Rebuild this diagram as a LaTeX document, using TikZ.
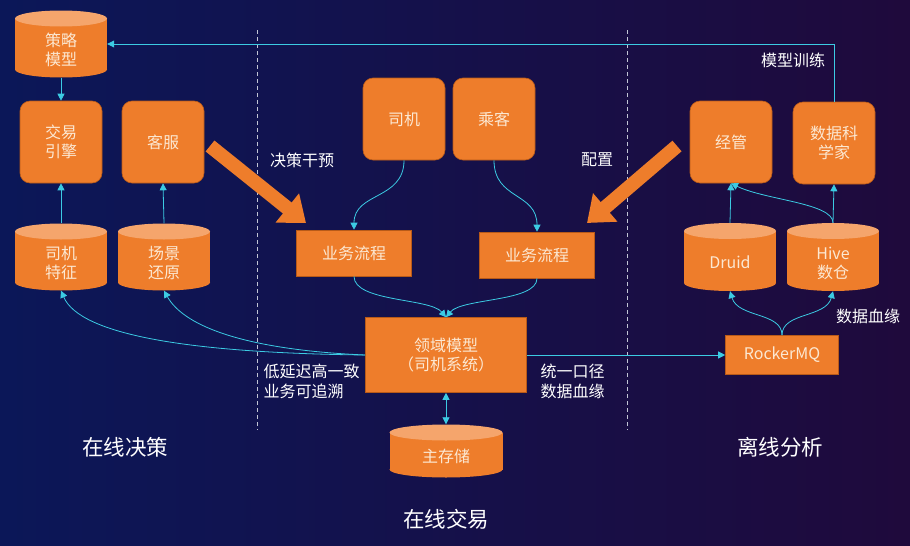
\documentclass[tikz,border=0pt]{standalone}
\usepackage{fontspec}
\setmainfont{Noto Sans CJK SC}
\usetikzlibrary{arrows.meta,calc}
\definecolor{bgl}{HTML}{0B1758}
\definecolor{bgr}{HTML}{1F0A3C}
\definecolor{org}{HTML}{EE7D2B}
\definecolor{orgtop}{HTML}{F5A56C}
\definecolor{orgdk}{HTML}{B85A18}
\definecolor{cy}{HTML}{3CCBE3}
\definecolor{txt}{HTML}{FCE8D2}
\newcommand\tl[1]{\raisebox{-8pt}[\height][\depth]{\begin{tabular}{@{}c@{}}#1\end{tabular}}}
\newcommand\mycyl[6]{%
  \fill[org] (#2-#4/2,#3-#5/2+8) rectangle (#2+#4/2,#3+#5/2-8);
  \fill[org] (#2,#3+#5/2-8) ellipse[x radius=#4/2,y radius=8];
  \fill[orgtop] (#2,#3-#5/2+8) ellipse[x radius=#4/2,y radius=8];
  \node[cyl,minimum width=#4,minimum height=#5] (#1) at (#2,#3) {\tl{#6}};}
\begin{document}
\begin{tikzpicture}[x=1pt,y=-1pt,
  boxtext/.style={text=txt,font=\fontsize{16}{19}\selectfont,align=center},
  box/.style={boxtext,fill=org,draw=orgdk,line width=0.6pt,rounded corners=10pt,minimum width=82pt,minimum height=82pt},
  rbox/.style={boxtext,fill=org,draw=orgdk,line width=0.6pt},
  cyl/.style={boxtext,inner sep=0pt},
  lbl/.style={text=white,font=\fontsize{16}{20}\selectfont,align=left},
  big/.style={text=white,font=\fontsize{21.5}{26}\selectfont},
  conn/.style={cy,line width=0.8pt,-{Triangle[length=7pt,width=7pt]}},
  conn2/.style={cy,line width=0.8pt,{Triangle[length=7pt,width=7pt]}-{Triangle[length=7pt,width=7pt]}},
  dashline/.style={white!75!bgl,line width=0.6pt,dash pattern=on 4pt off 3pt},
  bigarrow/.style={org,line width=14pt,-{Triangle[length=24pt,width=36pt]}}]
\useasboundingbox (0,0) rectangle (910,546);
\shade[left color=bgl,right color=bgr] (0,0) rectangle (910,546);

% dashed separators
\draw[dashline] (257,30) -- (257,430);
\draw[dashline] (627,30) -- (627,430);

% left column
\mycyl{cl}{61}{44}{92}{67}{策略\\模型}
\node[box] (jy) at (61,142) {交易\\引擎};
\node[box] (kf) at (163,142) {客服};
\mycyl{sf}{61}{257}{92}{67}{司机\\特征}
\mycyl{cj}{164}{257}{92}{67}{场景\\还原}

% middle column
\node[box] (sj) at (404,119) {司机};
\node[box] (ck) at (494,119) {乘客};
\node[rbox,minimum width=115pt,minimum height=46pt] (b1) at (354,253) {业务流程};
\node[rbox,minimum width=115pt,minimum height=46pt] (b2) at (537,255) {业务流程};
\node[rbox,minimum width=161pt,minimum height=75pt] (dm) at (446,355) {领域模型\\（司机系统）};
\mycyl{zc}{446}{451}{113}{53}{主存储}

% right column
\node[box] (jg) at (731,142) {经管};
\node[box] (ds) at (834,143) {数据科\\学家};
\mycyl{dr}{730}{257}{92}{68}{Druid}
\mycyl{hv}{833}{257}{92}{68}{Hive\\数仓}
\node[rbox,minimum width=113pt,minimum height=39pt] (mq) at (782,355) {RockerMQ};

% big orange arrows
\draw[bigarrow] (210,146) -- (306,223);
\draw[bigarrow] (677,146) -- (587,223);

% labels
\node[lbl] (t1) at (302,160) {决策干预};
\node[lbl] (t2) at (597,160) {配置};
\node[lbl] (t3) at (793,60) {模型训练};
\node[lbl] (t4) at (868,316) {数据血缘};
\node[lbl,anchor=west] (t5) at (260,381) {低延迟高一致\\业务可追溯};
\node[lbl,anchor=west] (t6) at (537,381) {统一口径\\数据血缘};
\node[big] (g1) at (125,447) {在线决策};
\node[big] (g2) at (446,519) {在线交易};
\node[big] (g3) at (780,447) {离线分析};

% connectors
\draw[conn] (cl.south) -- (jy.north);
\draw[conn] (sf.north) -- (jy.south);
\draw[conn] (cj.north) -- (kf.south);
\draw[conn] (ds.north) |- (cl.east);
\draw[conn] (sj.south) .. controls (404,200) and (354,192) .. (b1.north);
\draw[conn] (ck.south) .. controls (494,200) and (537,192) .. (b2.north);
\draw[conn] (b1.south) .. controls (354,302) and (430,298) .. (dm.north);
\draw[conn] (b2.south) .. controls (537,302) and (462,298) .. (dm.north);
\draw[conn] (dm.west) .. controls (190,353) and (80,335) .. (sf.south);
\draw[conn] (dm.west) .. controls (250,350) and (185,328) .. (cj.south);
\draw[conn2] (dm.south) -- (zc.north);
\draw[conn] (dm.east) -- (mq.west);
\draw[conn] (mq.north) .. controls (782,312) and (738,318) .. (dr.south);
\draw[conn] (mq.north) .. controls (782,312) and (826,318) .. (hv.south);
\draw[conn] (dr.north) -- (jg.south);
\draw[conn] (hv.north) -- (ds.south);
\draw[conn] (hv.north) .. controls (833,203) and (765,200) .. (jg.south);
\end{tikzpicture}
\end{document}
